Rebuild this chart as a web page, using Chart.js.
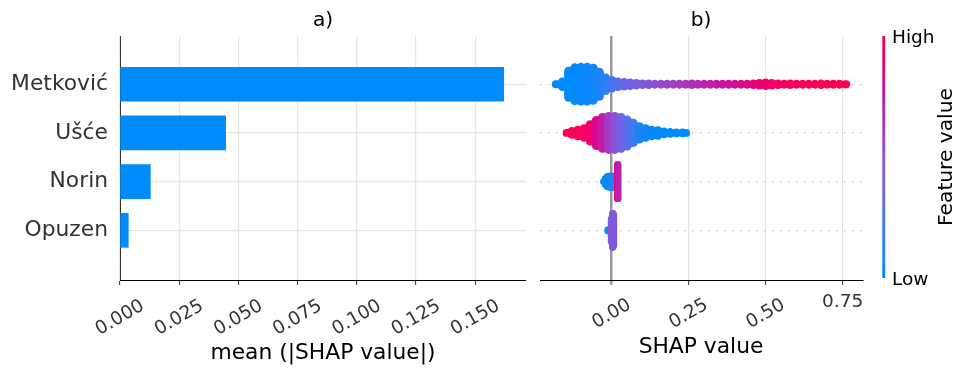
<!DOCTYPE html>
<html>
<head>
<meta charset="utf-8">
<script src="https://cdn.jsdelivr.net/npm/chart.js@4.4.1/dist/chart.umd.min.js"></script>
<style>
  html, body { margin: 0; padding: 0; background: #ffffff; }
  #wrap { position: relative; width: 956px; height: 369px; overflow: hidden; background: #ffffff; }
  #wrap canvas { position: absolute; top: 0; }
</style>
</head>
<body>
<div id="wrap">
  <canvas id="barChart" width="530" height="369" style="left:0px;width:530px;height:369px"></canvas>
  <canvas id="swarmChart" width="340" height="369" style="left:530px;width:340px;height:369px"></canvas>
  <canvas id="colorBar" width="94" height="369" style="left:862px;width:94px;height:369px"></canvas>
</div>
<script>
// ---- data ----
const features = ['Metković', 'Ušće', 'Norin', 'Opuzen'];
const meanAbsShap = [0.162, 0.0446, 0.0128, 0.0035];
const barTicks = [0, 0.025, 0.05, 0.075, 0.1, 0.125, 0.15];
const swarmTicks = [0, 0.25, 0.5, 0.75];
const uprightTicks = [0.75];
const colorTicks = ['Low', 'High'];

// beeswarm columns: SHAP value, vertical half-spread (in rows), feature value (0 = low, 1 = high)
const metkovicShap = [-0.18, -0.16, -0.14, -0.12, -0.10, -0.08, -0.06, -0.04, -0.02, 0.00,
  0.02, 0.04, 0.06, 0.08, 0.10, 0.12, 0.14, 0.16, 0.18, 0.20,
  0.22, 0.24, 0.26, 0.28, 0.30, 0.32, 0.34, 0.36, 0.38, 0.40,
  0.42, 0.44, 0.46, 0.48, 0.50, 0.52, 0.54, 0.56, 0.58, 0.60,
  0.62, 0.64, 0.66, 0.68, 0.70, 0.72, 0.74, 0.76];
const metkovicSpread = [0.08, 0.14, 0.36, 0.43, 0.44, 0.44, 0.42, 0.34, 0.22, 0.17,
  0.14, 0.13, 0.12, 0.11, 0.10, 0.10, 0.09, 0.09, 0.09, 0.09,
  0.09, 0.09, 0.10, 0.09, 0.09, 0.09, 0.09, 0.09, 0.09, 0.09,
  0.09, 0.09, 0.10, 0.11, 0.12, 0.11, 0.10, 0.09, 0.10, 0.09,
  0.09, 0.09, 0.09, 0.10, 0.09, 0.09, 0.09, 0.08];
const metkovicFeature = [0, 0, 0, 0.01, 0.02, 0.03, 0.05, 0.09, 0.15, 0.22,
  0.28, 0.33, 0.37, 0.41, 0.45, 0.48, 0.51, 0.54, 0.57, 0.60,
  0.62, 0.64, 0.66, 0.68, 0.70, 0.72, 0.74, 0.76, 0.78, 0.80,
  0.83, 0.86, 0.88, 0.90, 0.92, 0.94, 0.95, 0.96, 0.97, 0.98,
  0.99, 1, 1, 1, 1, 1, 1, 1];

const usceShap = [-0.145, -0.13, -0.11, -0.09, -0.07, -0.05, -0.03, -0.01, 0.01, 0.03,
  0.05, 0.07, 0.09, 0.11, 0.13, 0.15, 0.17, 0.19, 0.21, 0.23, 0.24];
const usceSpread = [0.08, 0.12, 0.15, 0.18, 0.26, 0.35, 0.41, 0.43, 0.43, 0.41,
  0.36, 0.29, 0.22, 0.18, 0.15, 0.14, 0.11, 0.10, 0.09, 0.09, 0.08];
const usceFeature = [1, 1, 0.98, 0.96, 0.92, 0.85, 0.74, 0.62, 0.50, 0.40,
  0.30, 0.20, 0.10, 0.05, 0.02, 0, 0, 0, 0, 0, 0];

const norinShap = [-0.028, -0.022, -0.016, -0.010, -0.004, 0.002, 0.017, 0.022];
const norinSpread = [0.07, 0.13, 0.17, 0.18, 0.19, 0.19, 0.42, 0.42];
const norinFeature = [0, 0, 0.02, 0.04, 0.06, 0.10, 0.85, 0.72];

const opuzenShap = [-0.014, -0.003, 0.001, 0.005, 0.008];
const opuzenSpread = [0.08, 0.30, 0.42, 0.42, 0.38];
const opuzenFeature = [0.02, 0.45, 0.45, 0.45, 0.45];

// mixed-colour clusters drawn over the columns: SHAP value, low/high offset (rows), feature value
const usceMixShap = [-0.045, -0.03, -0.025, -0.01, 0.0, 0.015, 0.025, 0.035, 0.045];
const usceMixLow = [-0.06, 0.04, -0.33, -0.39, 0.12, -0.12, -0.25, 0.08, -0.08];
const usceMixHigh = [0.18, 0.25, -0.16, -0.21, 0.33, 0.08, -0.06, 0.29, 0.12];
const usceMixFeature = [1.0, 0.95, 0.70, 0.55, 0.85, 0.75, 0.20, 0.45, 0.10];

const norinMixShap = [0.006, 0.019, 0.019, 0.021, 0.019];
const norinMixLow = [-0.17, -0.42, 0.26, -0.06, 0.08];
const norinMixHigh = [0.17, -0.25, 0.42, 0.06, 0.2];
const norinMixFeature = [0.08, 1.0, 0.95, 1.0, 0.55];

const opuzenMixShap = [-0.002, 0.004, -0.008, 0.005];
const opuzenMixLow = [-0.22, 0.0, -0.08, -0.18];
const opuzenMixHigh = [0.05, 0.15, 0.08, -0.05];
const opuzenMixFeature = [0.90, 0.80, 0.03, 0.10];

// ---- style ----
const FONT = 'DejaVu Sans';
const TICK_GREY = '#333333';
const BAR_BLUE = '#008bfb';
const ROW_MIN = -0.99;
const ROW_MAX = 4.02;
Chart.defaults.font.family = FONT;
Chart.defaults.color = TICK_GREY;

const cmapStops = [
  [0.00, [0, 138, 250]],
  [0.20, [62, 122, 243]],
  [0.40, [118, 96, 225]],
  [0.50, [138, 82, 212]],
  [0.60, [160, 64, 196]],
  [0.75, [196, 24, 164]],
  [0.90, [234, 0, 118]],
  [1.00, [255, 0, 82]]
];
function featureColor(v) {
  v = Math.max(0, Math.min(1, v));
  for (let i = 1; i < cmapStops.length; i++) {
    const [p1, c1] = cmapStops[i];
    const [p0, c0] = cmapStops[i - 1];
    if (v <= p1) {
      const t = (v - p0) / (p1 - p0);
      const c = c0.map((a, k) => Math.round(a + (c1[k] - a) * t));
      return `rgb(${c[0]},${c[1]},${c[2]})`;
    }
  }
  return 'rgb(255,0,82)';
}

// ---- panel a: mean |SHAP| bars ----
new Chart(document.getElementById('barChart'), {
  type: 'bar',
  data: {
    datasets: [{
      data: features.map((f, i) => ({ x: meanAbsShap[i], y: i })),
      backgroundColor: BAR_BLUE,
      borderWidth: 0,
      barThickness: 34,
      grouped: false
    }]
  },
  options: {
    indexAxis: 'y',
    responsive: false,
    animation: false,
    events: [],
    devicePixelRatio: 1,
    layout: { padding: { left: 0, right: 4, top: 0, bottom: 0 } },
    plugins: {
      legend: { display: false },
      tooltip: { enabled: false },
      title: {
        display: true, text: 'a)', fullSize: false, color: '#000',
        font: { size: 20.2, weight: 'normal' }, padding: { top: 8.8, bottom: 3 }
      }
    },
    scales: {
      x: {
        type: 'linear', min: 0, max: 0.1714, offset: false,
        afterBuildTicks: s => { s.ticks = barTicks.map(v => ({ value: v })); },
        afterFit: s => { s.height = 89; s.paddingLeft = 0; s.paddingRight = 0; },
        grid: { offset: false, color: '#e6e6e6', lineWidth: 1.2, tickLength: 5, tickColor: TICK_GREY, tickWidth: 1 },
        border: { display: true, color: '#000', width: 1 },
        ticks: {
          autoSkip: false, minRotation: 30, maxRotation: 30, labelOffset: 22.9, padding: 10,
          color: TICK_GREY, font: { size: 18.5 },
          callback: v => v.toFixed(3)
        },
        title: {
          display: true, text: 'mean (|SHAP value|)', color: '#000',
          font: { size: 21.8 }, padding: { top: 0, bottom: 3 }
        }
      },
      y: {
        type: 'linear', reverse: true, min: ROW_MIN, max: ROW_MAX, offset: false,
        afterBuildTicks: s => { s.ticks = features.map((f, i) => ({ value: i })); },
        afterFit: s => { s.width = 120; s.paddingTop = 0; s.paddingBottom = 0; },
        grid: { offset: false, color: '#e6e6e6', lineWidth: 1.2, drawTicks: false },
        border: { display: true, color: TICK_GREY, width: 1 },
        ticks: {
          padding: 12, color: TICK_GREY, font: { size: 21.8 },
          callback: v => features[v] ?? ''
        }
      }
    }
  }
});

// ---- panel b: beeswarm ----
function columns(row, shap, spread, feature) {
  return shap.map((x, i) => ({ x, y: [row - spread[i], row + spread[i]], f: feature[i] }));
}
function clusters(row, shap, low, high, feature) {
  return shap.map((x, i) => ({ x, y: [row + low[i], row + high[i]], f: feature[i] }));
}
function swarmSet(points, width) {
  return {
    data: points,
    barThickness: width,
    borderRadius: width / 2,
    borderSkipped: false,
    borderWidth: 0,
    inflateAmount: 0,
    grouped: false,
    backgroundColor: c => featureColor(c.raw ? c.raw.f : 0)
  };
}

const zeroLine = c => c.tick && c.tick.value === 0;
const uprightTickLabel = {
  id: 'uprightTickLabel',
  afterDraw(chart) {
    const s = chart.scales.x;
    const ctx = chart.ctx;
    ctx.save();
    ctx.font = `18.5px "${FONT}"`;
    ctx.fillStyle = TICK_GREY;
    ctx.textAlign = 'center';
    ctx.textBaseline = 'alphabetic';
    uprightTicks.forEach(v => ctx.fillText(v.toFixed(2), s.getPixelForValue(v), s.top + 26.7));
    ctx.restore();
  }
};

new Chart(document.getElementById('swarmChart'), {
  type: 'bar',
  data: {
    datasets: [
      swarmSet(columns(0, metkovicShap, metkovicSpread, metkovicFeature), 9),
      swarmSet(columns(1, usceShap, usceSpread, usceFeature), 9),
      swarmSet(columns(2, norinShap, norinSpread, norinFeature), 6),
      swarmSet(columns(3, opuzenShap, opuzenSpread, opuzenFeature), 6),
      swarmSet(clusters(1, usceMixShap, usceMixLow, usceMixHigh, usceMixFeature), 7),
      swarmSet(clusters(2, norinMixShap, norinMixLow, norinMixHigh, norinMixFeature), 6),
      swarmSet(clusters(3, opuzenMixShap, opuzenMixLow, opuzenMixHigh, opuzenMixFeature), 6)
    ]
  },
  options: {
    responsive: false,
    animation: false,
    events: [],
    devicePixelRatio: 1,
    layout: { padding: { left: 10, right: 8, top: 0, bottom: 0 } },
    plugins: {
      legend: { display: false },
      tooltip: { enabled: false },
      title: {
        display: true, text: 'b)', fullSize: false, color: '#000',
        font: { size: 20.2, weight: 'normal' }, padding: { top: 8.8, bottom: 3 }
      }
    },
    scales: {
      x: {
        type: 'linear', min: -0.233, max: 0.813, offset: false,
        afterBuildTicks: s => { s.ticks = swarmTicks.map(v => ({ value: v })); },
        afterFit: s => { s.height = 89; s.paddingLeft = 0; s.paddingRight = 0; },
        grid: {
          offset: false,
          color: c => zeroLine(c) ? '#999999' : '#e4e4e4',
          lineWidth: c => zeroLine(c) ? 2.5 : 1.2,
          tickLength: 5,
          tickColor: c => zeroLine(c) ? '#999999' : TICK_GREY,
          tickWidth: c => zeroLine(c) ? 2.5 : 1
        },
        border: { display: true, color: '#000', width: 1 },
        ticks: {
          autoSkip: false, minRotation: 30, maxRotation: 30, labelOffset: 17.8, padding: 9,
          color: TICK_GREY, font: { size: 18.5 },
          callback: v => uprightTicks.includes(v) ? '' : v.toFixed(2)
        },
        title: {
          display: true, text: 'SHAP value', color: '#000',
          font: { size: 21.8 }, padding: { top: 0, bottom: 8.5 }
        }
      },
      y: {
        type: 'linear', reverse: true, min: ROW_MIN, max: ROW_MAX, offset: false,
        afterBuildTicks: s => { s.ticks = features.map((f, i) => ({ value: i })); },
        afterFit: s => { s.width = 0; s.paddingTop = 0; s.paddingBottom = 0; },
        grid: { offset: false, color: '#c8c8c8', lineWidth: 1.2, drawTicks: false },
        border: { display: false, dash: [1.5, 6.5] },
        ticks: { display: false }
      }
    }
  },
  plugins: [uprightTickLabel]
});

// ---- colour bar ----
const featureValueLabel = {
  id: 'featureValueLabel',
  afterDraw(chart) {
    const ctx = chart.ctx;
    const a = chart.chartArea;
    ctx.save();
    ctx.translate(90, (a.top + a.bottom) / 2);
    ctx.rotate(-Math.PI / 2);
    ctx.font = `20.2px "${FONT}"`;
    ctx.fillStyle = '#000';
    ctx.textAlign = 'center';
    ctx.textBaseline = 'alphabetic';
    ctx.fillText('Feature value', 0, 0);
    ctx.restore();
  }
};

new Chart(document.getElementById('colorBar'), {
  type: 'bar',
  data: {
    labels: [''],
    datasets: [{
      data: [[0, 1]],
      borderWidth: 0,
      barPercentage: 1,
      categoryPercentage: 1,
      backgroundColor: c => {
        const a = c.chart.chartArea;
        if (!a) return BAR_BLUE;
        const g = c.chart.ctx.createLinearGradient(0, a.bottom, 0, a.top);
        cmapStops.forEach(([p, rgb]) => g.addColorStop(p, `rgb(${rgb[0]},${rgb[1]},${rgb[2]})`));
        return g;
      }
    }]
  },
  options: {
    responsive: false,
    animation: false,
    events: [],
    devicePixelRatio: 1,
    layout: { padding: { left: 20.3, right: 0, top: 36, bottom: 91 } },
    plugins: { legend: { display: false }, tooltip: { enabled: false } },
    scales: {
      x: { display: false },
      y: {
        position: 'right', min: 0, max: 1,
        afterBuildTicks: s => { s.ticks = colorTicks.map((t, i) => ({ value: i })); },
        afterFit: s => { s.width = 70.7; s.paddingTop = 0; s.paddingBottom = 0; },
        grid: { display: false, drawTicks: false },
        border: { display: false },
        ticks: { padding: 6.7, labelOffset: 2, color: '#000', font: { size: 18.5 }, callback: v => colorTicks[v] ?? '' }
      }
    }
  },
  plugins: [featureValueLabel]
});
</script>
</body>
</html>
